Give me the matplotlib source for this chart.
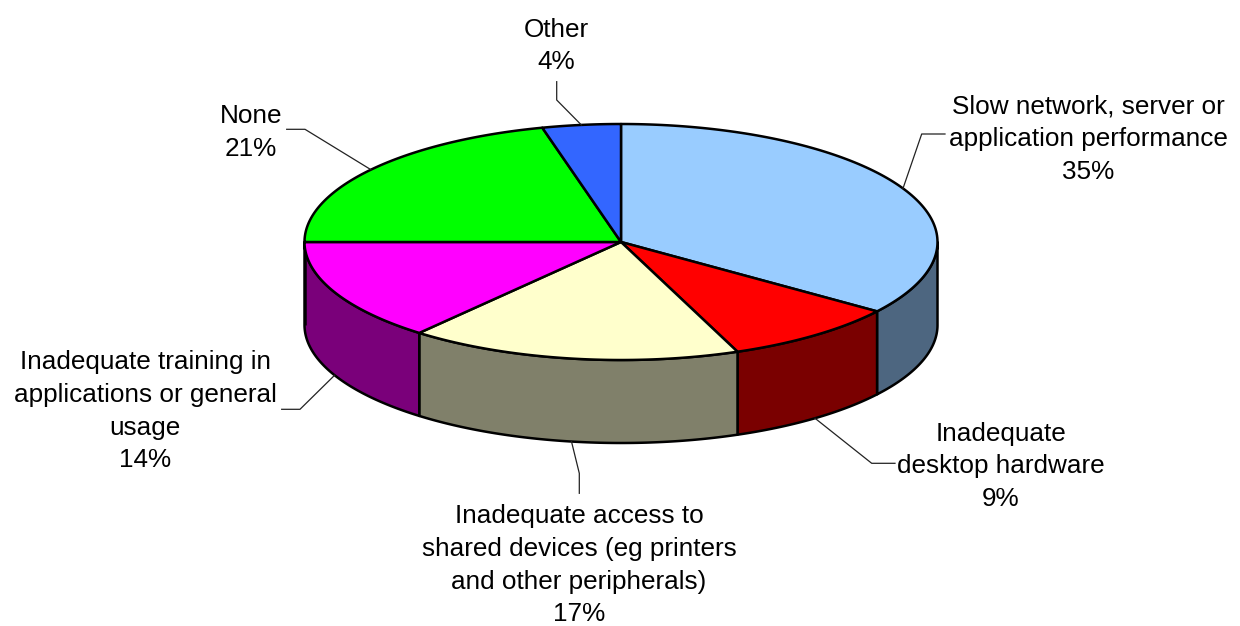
import numpy as np
import matplotlib
matplotlib.use("Agg")
import matplotlib.pyplot as plt
from matplotlib.patches import Polygon

labels = [
    "Slow network, server or\napplication performance",
    "Inadequate\ndesktop hardware",
    "Inadequate access to\nshared devices (eg printers\nand other peripherals)",
    "Inadequate training in\napplications or general\nusage",
    "None",
    "Other",
]
values = [35, 9, 17, 14, 21, 4]
top_colors = ["#99CCFF", "#FF0000", "#FFFFCC", "#FF00FF", "#00FF00", "#3366FF"]
side_colors = ["#4D6680", "#7A0000", "#80806A", "#7A007A", "#008000", "#1A3380"]

# layout in pixels (y down)
cx, cy = 621, 242
rx, ry = 316.5, 118
depth = 83

# label placement: text centre x, first baseline y, leader elbow, leader end
label_pos = [
    (1088, 113.5, (921.7, 134), (945, 134)),
    (1001, 440.7, (871.7, 463.3), (895, 463.3)),
    (579, 523.3, (579.3, 473.3), (579.3, 493.3)),
    (145, 369.3, (300, 409.3), (281.7, 409.3)),
    (251, 123, (305, 129.3), (286.7, 129.3)),
    (556, 36.7, (556.7, 100), (556.7, 81.7)),
]
line_step = 32.7

plt.rcParams["font.family"] = ["Liberation Sans", "DejaVu Sans"]

fig = plt.figure(figsize=(12.4, 6.26), dpi=100)
ax = fig.add_axes([0, 0, 1, 1])
ax.set_xlim(0, 1240)
ax.set_ylim(626, 0)
ax.axis("off")


def rim(t, dy=0):
    t = np.radians(t)
    return np.column_stack([cx + rx * np.cos(t), cy - ry * np.sin(t) + dy])


total = sum(values)
starts = []
a = 90.0
for v in values:
    b = a - v / total * 360.0
    starts.append((a, b))
    a = b

# side walls (only the front half, angles in [-180, 0])
for (a, b), sc in zip(starts, side_colors):
    hi = min(a, 0.0)
    lo = max(b, -180.0)
    if hi <= lo:
        continue
    ts = np.linspace(hi, lo, 80)
    pts = np.vstack([rim(ts), rim(ts[::-1], depth)])
    ax.add_patch(Polygon(pts, closed=True, facecolor=sc, edgecolor="black",
                         linewidth=1.8, joinstyle="round"))

# top faces
for (a, b), tc in zip(starts, top_colors):
    ts = np.linspace(a, b, 120)
    pts = np.vstack([[cx, cy], rim(ts)])
    ax.add_patch(Polygon(pts, closed=True, facecolor=tc, edgecolor="black",
                         linewidth=1.8, joinstyle="round"))

# labels and leader lines
for (a, b), lab, v, (tx, ty, elbow, end) in zip(starts, labels, values, label_pos):
    mid = (a + b) / 2
    dy = depth if np.sin(np.radians(mid)) < 0 else 0
    anchor = rim(np.array([mid]), dy)[0]
    xs = [anchor[0], elbow[0], end[0]]
    ys = [anchor[1], elbow[1], end[1]]
    ax.plot(xs, ys, color="#222222", linewidth=0.9)
    lines = lab.split("\n") + [f"{v}%"]
    for i, line in enumerate(lines):
        ax.text(tx, ty + i * line_step, line, ha="center", va="baseline",
                fontsize=18.8, color="black")

fig.savefig("out.png", dpi=100)
